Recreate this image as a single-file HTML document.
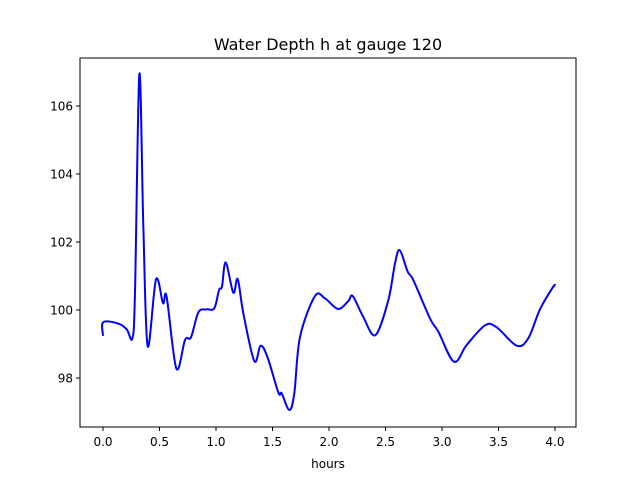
<!DOCTYPE html>
<html><head><meta charset="utf-8"><style>
body{margin:0;background:#fff;font-family:"Liberation Sans","DejaVu Sans",sans-serif}
svg text{font-family:"DejaVu Sans","Liberation Sans",sans-serif}
</style></head><body>
<svg id="chart" width="640" height="480">
<rect width="640" height="480" fill="#fff"/>
<text x="328" y="50" font-size="16" text-anchor="middle">Water Depth h at gauge 120</text>
<g id="xt"></g>
<g id="yt"></g>
<path id="line" fill="none" stroke="#0000ff" stroke-width="2"/>
<rect x="80" y="58" width="496" height="369" fill="none" stroke="#000" stroke-width="1"/>
<text x="328" y="468" font-size="12" text-anchor="middle">hours</text>
</svg>
<script>
const hours=[0,0.002,0.135,0.21,0.26,0.283,0.322,0.357,0.395,0.469,0.531,0.563,0.649,0.726,0.779,0.844,0.917,0.985,1.027,1.053,1.086,1.153,1.192,1.242,1.339,1.395,1.457,1.552,1.581,1.649,1.693,1.743,1.876,1.965,2.08,2.17,2.21,2.30,2.41,2.525,2.584,2.626,2.696,2.746,2.894,2.968,3.106,3.218,3.381,3.484,3.661,3.764,3.867,3.985,4.0];
const depth=[99.24,99.64,99.6,99.43,99.17,100.5,106.94,102.45,98.94,100.9,100.2,100.39,98.28,99.12,99.2,99.93,100.02,100.05,100.59,100.69,101.4,100.51,100.91,99.9,98.5,98.95,98.6,97.57,97.55,97.06,97.55,99.2,100.41,100.34,100.03,100.26,100.41,99.82,99.26,100.29,101.37,101.76,101.13,100.88,99.75,99.36,98.48,98.97,99.55,99.49,98.95,99.17,100.02,100.69,100.7];
const xTicks=[0,0.5,1,1.5,2,2.5,3,3.5,4];
const yTicks=[98,100,102,104,106];
const X=v=>103+v*113, Y=v=>310-(v-100)*34;
const NS='http://www.w3.org/2000/svg';
const xt=document.getElementById('xt'), yt=document.getElementById('yt');
xTicks.forEach(t=>{
 const l=document.createElementNS(NS,'line');
 
 
 l.setAttribute('x1',X(t));l.setAttribute('x2',X(t));l.setAttribute('y1',427);l.setAttribute('y2',431);l.setAttribute('stroke','#000');
 xt.appendChild(l);
 const s=document.createElementNS(NS,'text');
 
 
 s.setAttribute('x',X(t));s.setAttribute('y',446);s.setAttribute('font-size','12');s.setAttribute('text-anchor','middle');
 s.textContent=t.toFixed(1);xt.appendChild(s);
});
yTicks.forEach(t=>{
 const l=document.createElementNS(NS,'line');
 
 
 l.setAttribute('x1',76);l.setAttribute('x2',80);l.setAttribute('y1',Y(t));l.setAttribute('y2',Y(t));l.setAttribute('stroke','#000');
 yt.appendChild(l);
 const s=document.createElementNS(NS,'text');
 
 
 s.setAttribute('x',73);s.setAttribute('y',Y(t)+4.5);s.setAttribute('font-size','12');s.setAttribute('text-anchor','end');
 s.textContent=t;yt.appendChild(s);
});
const P=hours.map((h,i)=>[X(h),Y(depth[i])]);
let d='M'+P[0][0]+','+P[0][1];
for(let i=0;i<P.length-1;i++){
 const p0=P[Math.max(0,i-1)],p1=P[i],p2=P[i+1],p3=P[Math.min(P.length-1,i+2)];
 const c1=[p1[0]+(p2[0]-p0[0])/6,p1[1]+(p2[1]-p0[1])/6];
 const c2=[p2[0]-(p3[0]-p1[0])/6,p2[1]-(p3[1]-p1[1])/6];
 d+=' C'+c1+' '+c2+' '+p2;
}
document.getElementById('line').setAttribute('d',d);
</script>
</body></html>
